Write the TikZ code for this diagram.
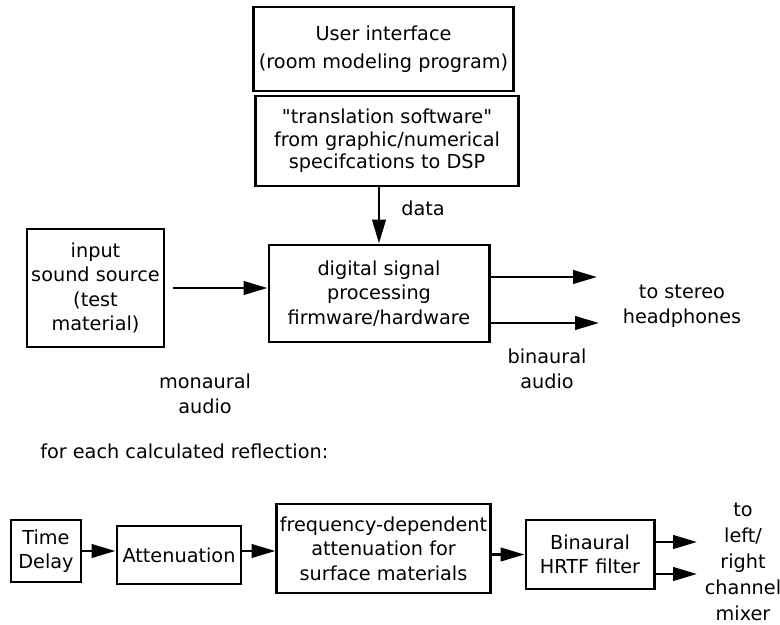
\documentclass[tikz,border=0pt]{standalone}
\usepackage{fontspec}
\setmainfont{DejaVu Sans}[Ligatures=TeXOff]
\usetikzlibrary{arrows.meta}

\begin{document}
\begin{tikzpicture}[x=0.025cm,y=-0.025cm,
  every node/.style={font=\fontsize{13.7}{17.5}\selectfont},
  box/.style={draw,line width=2.1pt,align=center,inner sep=2pt},
  lbl/.style={align=center,inner sep=0pt},
  arr/.style={-{Triangle[length=17pt,width=9.5pt]},line width=2.1pt}]
  \useasboundingbox (0,0) rectangle (780,624);
  % upper chain
  \node[box,minimum width=6.475cm,minimum height=2.1cm,
        font=\fontsize{13.7}{20}\selectfont] (ui) at (383.5,49)
        {User interface\\(room modeling program)};
  \node[box,minimum width=6.55cm,minimum height=2.25cm,
        font=\fontsize{13.7}{16}\selectfont] (trans) at (387,141)
        {"translation software"\\from graphic/numerical\\specifcations to DSP};
  \node[box,minimum width=5.5cm,minimum height=2.425cm] (dsp) at (379,293.5)
        {digital signal\\processing\\firmware/hardware};
  \node[box,minimum width=3.425cm,minimum height=2.95cm] (src) at (95.5,288)
        {input\\sound source\\(test\\material)};
  \coordinate (hp1) at (597,277);
  \coordinate (hp2) at (599,323);
  \draw[arr] (dsp.north |- trans.south) -- (dsp.north);
  \draw[arr,shorten <=2.5\pgflinewidth] (src.east) -- (dsp.west |- src.east);
  \draw[arr] (dsp.east |- hp1) -- (hp1);
  \draw[arr] (dsp.east |- hp2) -- (hp2);
  \node[lbl] (data) at (423,208) {data};
  \node[lbl] (mono) at (205,394) {monaural\\audio};
  \node[lbl] (bin) at (547,369) {binaural\\audio};
  \node[lbl] (hp) at (682,306) {to stereo\\headphones};

  % per reflection
  \node[lbl,anchor=west] (each) at (40,451) {for each calculated reflection:};
  \node[box,minimum width=1.75cm,minimum height=1.55cm] (delay) at (46,551)
        {Time\\Delay};
  \node[box,minimum width=3.1cm,minimum height=1.45cm] (att) at (179,555)
        {Attenuation};
  \node[box,minimum width=5.275cm,minimum height=2.225cm] (freq) at (383.5,548.5)
        {frequency-dependent\\attenuation for\\surface materials};
  \node[box,minimum width=3.2cm,minimum height=1.725cm] (hrtf) at (590,554.5)
        {Binaural\\HRTF filter};
  \coordinate (lr1) at (697,542);
  \coordinate (lr2) at (697,574);
  \draw[arr] (delay.east) -- (delay.east -| att.west);
  \draw[arr] (att.east |- delay.east) -- (delay.east -| freq.west);
  \draw[arr] (freq.east |- hrtf.west) -- (hrtf.west);
  \draw[arr] (hrtf.east |- lr1) -- (lr1);
  \draw[arr] (hrtf.east |- lr2) -- (lr2);
  \node[lbl,font=\fontsize{13.7}{18.5}\selectfont] (mix) at (743,562)
        {to\\left/\\right\\channel\\mixer};
\end{tikzpicture}
\end{document}
